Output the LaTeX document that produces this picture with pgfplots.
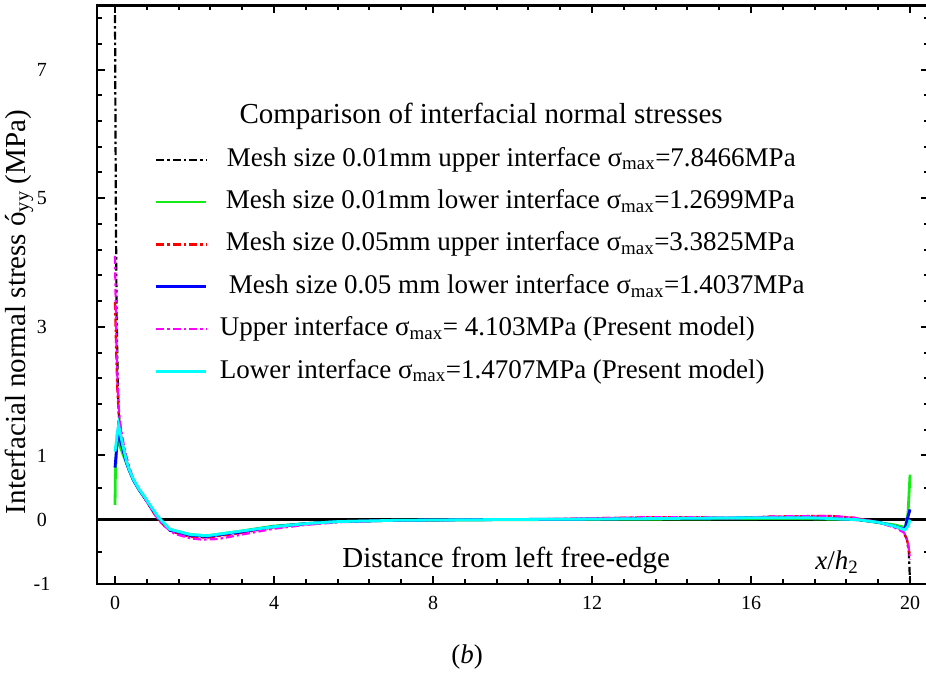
\documentclass[border=0pt]{standalone}
\usepackage{fontspec}
\setmainfont{Liberation Serif}
\usepackage{pgfplots}
\pgfplotsset{compat=1.18}
\usetikzlibrary{calc}
\definecolor{mgreen}{RGB}{20,235,20}
\definecolor{mcyan}{RGB}{0,255,255}
\definecolor{mmag}{RGB}{255,0,255}
\definecolor{mred}{RGB}{255,0,0}
\definecolor{mblue}{RGB}{0,0,255}
\begin{document}
\begin{tikzpicture}
\begin{axis}[
  scale only axis,
  width=831.7pt, height=578.7pt,
  xmin=-0.453, xmax=20.47, ymin=-1, ymax=8,
  axis line style={line width=2.5pt},
  xtick={0,4,8,12,16,20},
  minor x tick num=4,
  ytick={-1,0,1,3,5,7},
  minor ytick={-0.5,0.5,1.4,1.8,2.2,2.6,3.4,3.8,4.2,4.6,5.4,5.8,6.2,6.6,7.4,7.8},
  major tick length=8pt, minor tick length=5pt,
  every tick/.style={black, line width=2pt},
  /pgf/number format/assume math mode=true,
  tick label style={font=\fontsize{20}{24}\selectfont},
  yticklabel style={anchor=center, xshift=-55pt},
  xticklabel style={anchor=center, yshift=-19pt},
  legend cell align=left,
  legend image code/.code={\draw[#1] (0pt,0pt) -- (50pt,0pt);},
  legend style={draw=none, fill=none, at={(axis cs:1.006,5.81)}, anchor=north west,
    inner sep=0pt, outer sep=0pt, font=\fontsize{27}{32}\selectfont,
    row sep=15.4pt,
    nodes={inner sep=0pt, text height=20pt, text depth=7pt},
    /tikz/every odd column/.append style={column sep=12pt}},
  clip=true,
]
\addplot[black, line width=2.6pt, forget plot] coordinates {(-0.453,0) (20.47,0)};

\addplot[black, line width=2.2pt, dash pattern=on 8pt off 3pt on 2.5pt off 3pt] coordinates {
(0,7.8466) (0.02,5.0) (0.04,3.2) (0.07,2.1) (0.1,1.6) (0.15,1.3) (0.22,1.08) (0.29,0.9) (0.37,0.76) (0.46,0.62) (0.6,0.47) (0.75,0.33) (0.92,0.17) (1.09,0.02) (1.38,-0.17) (1.89,-0.25) (2.3,-0.27) (3.14,-0.2) (3.98,-0.11) (4.82,-0.06) (5.6,-0.03) (7,-0.01) (9,0.0) (12,0.01) (14,0.02) (16,0.03) (17.5,0.03) (18.7,0.0) (19.4,-0.06) (19.8,-0.15) (19.92,-0.3) (19.97,-0.5) (20,-0.98)};
\addlegendentry{\hspace{7pt}Mesh size 0.01mm upper interface σ\textsubscript{max}=7.8466MPa}

\addplot[mgreen, line width=2.8pt] coordinates {
(0,0.23) (0.01,0.7) (0.05,1.2699) (0.12,1.15) (0.2,1.02) (0.29,0.88) (0.37,0.75) (0.46,0.62) (0.6,0.47) (0.75,0.34) (0.92,0.18) (1.09,0.03) (1.38,-0.15) (1.89,-0.23) (2.31,-0.25) (3.14,-0.18) (3.98,-0.1) (4.82,-0.06) (5.58,-0.03) (7,-0.01) (10,0.0) (14,0.01) (17,0.02) (18.7,0.0) (19.6,-0.08) (19.88,-0.12) (19.95,0.1) (20,0.7)};
\addlegendentry{\hspace{6pt}Mesh size 0.01mm lower interface σ\textsubscript{max}=1.2699MPa}

\addplot[mred, line width=2.2pt, dash pattern=on 8pt off 3pt on 2.5pt off 3pt] coordinates {
(0,3.3825) (0.03,2.6) (0.06,2.0) (0.1,1.6) (0.15,1.32) (0.22,1.1) (0.29,0.92) (0.37,0.77) (0.46,0.63) (0.6,0.47) (0.75,0.33) (1.0,0.08) (1.2,-0.07) (1.5,-0.2) (1.9,-0.27) (2.3,-0.28) (3.14,-0.21) (3.98,-0.12) (4.82,-0.07) (5.6,-0.03) (7,-0.01) (9,0.0) (11,0.01) (13.5,0.04) (14.7,0.04) (15.5,0.02) (16.5,0.05) (18.0,0.06) (18.6,0.03) (19.2,-0.04) (19.6,-0.1) (19.8,-0.16) (19.92,-0.3) (20,-0.55)};
\addlegendentry{\hspace{6pt}Mesh size 0.05mm upper interface σ\textsubscript{max}=3.3825MPa}

\addplot[mblue, line width=2.8pt] coordinates {
(0,0.81) (0.08,1.4037) (0.15,1.2) (0.22,1.04) (0.29,0.88) (0.37,0.75) (0.46,0.62) (0.6,0.47) (0.75,0.34) (0.92,0.18) (1.09,0.03) (1.38,-0.16) (1.89,-0.24) (2.31,-0.26) (3.14,-0.19) (3.98,-0.11) (4.82,-0.06) (5.58,-0.03) (7,-0.01) (9,0.0) (12,0.01) (14,0.02) (16,0.03) (17.5,0.03) (18.7,0.0) (19.2,-0.04) (19.6,-0.1) (19.87,-0.15) (19.95,0.05) (20,0.16)};
\addlegendentry{\hspace{9pt}Mesh size 0.05 mm lower interface σ\textsubscript{max}=1.4037MPa}

\addplot[mmag, line width=2.2pt, dash pattern=on 8pt off 3pt on 2.5pt off 3pt] coordinates {
(0,4.103) (0.02,3.3) (0.05,2.4) (0.08,1.85) (0.12,1.55) (0.18,1.3) (0.24,1.1) (0.3,0.95) (0.38,0.78) (0.46,0.64) (0.6,0.47) (0.75,0.33) (1.0,0.08) (1.2,-0.08) (1.5,-0.22) (1.9,-0.29) (2.2,-0.31) (2.6,-0.3) (3.2,-0.23) (4,-0.14) (4.8,-0.08) (5.6,-0.04) (7,-0.01) (9,0.0) (11,0.01) (13.5,0.04) (14.7,0.04) (15.5,0.02) (16.5,0.05) (18.0,0.06) (18.6,0.03) (19.2,-0.04) (19.6,-0.12) (19.85,-0.2) (19.95,-0.35) (20,-0.62)};
\addlegendentry{Upper interface σ\textsubscript{max}= 4.103MPa (Present model)}

\addplot[mcyan, line width=2.8pt] coordinates {
(0,1.06) (0.09,1.4707) (0.18,1.2) (0.24,1.04) (0.29,0.9) (0.37,0.76) (0.46,0.63) (0.6,0.48) (0.75,0.35) (0.92,0.19) (1.09,0.04) (1.38,-0.15) (1.89,-0.23) (2.31,-0.25) (3.14,-0.18) (3.98,-0.11) (4.82,-0.06) (5.58,-0.03) (7,-0.01) (9,0.0) (12,0.01) (14,0.02) (16,0.03) (17.5,0.03) (18.7,0.0) (19.2,-0.04) (19.6,-0.1) (19.87,-0.16) (19.95,-0.1) (20,0.0)};
\addlegendentry{Lower interface σ\textsubscript{max}=1.4707MPa (Present model)}

\node[font=\fontsize{29}{34}\selectfont] at (axis cs:9.21,6.27) {Comparison of interfacial normal stresses};
\node[font=\fontsize{29}{34}\selectfont] at (axis cs:9.84,-0.64) {Distance from left free-edge};
\node[font=\fontsize{27}{32}\selectfont] at (axis cs:18.16,-0.66) {\textit{x}/\textit{h}\textsubscript{2}};
\end{axis}
\node[font=\fontsize{29}{34}\selectfont, rotate=90] at ($(current axis.south west)+(-78pt,272pt)$) {Interfacial normal stress ó\textsubscript{yy} (MPa)};
\node[font=\fontsize{27}{32}\selectfont] at ($(current axis.south west)+(370pt,-73pt)$) {(\textit{b})};
\pgfresetboundingbox
\path (current axis.south west) ++(-97pt,-89pt) rectangle ++(926pt,673pt);
\end{tikzpicture}
\end{document}
